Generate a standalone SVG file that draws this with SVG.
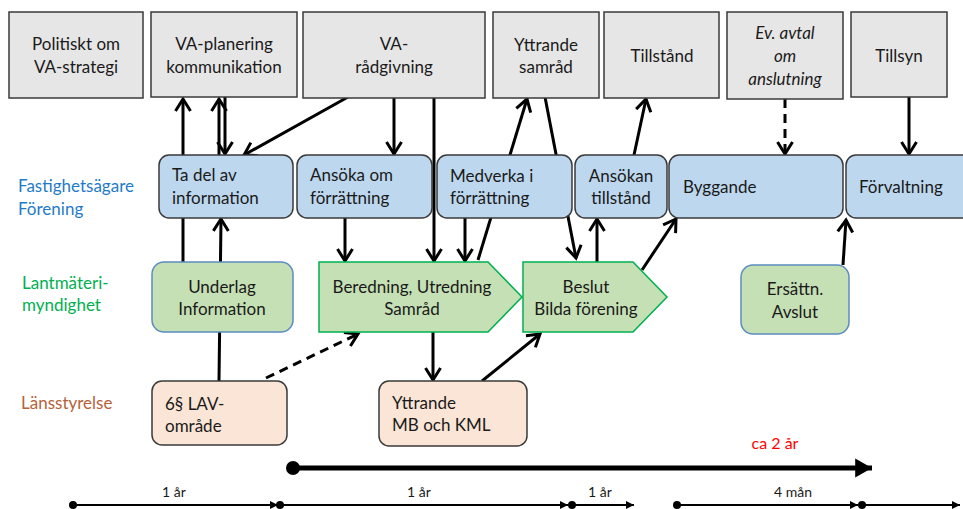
<svg xmlns="http://www.w3.org/2000/svg" width="963" height="509" viewBox="0 0 963 509">
<defs>
<style>
.t{font-family:Lato,"Open Sans","Liberation Sans",sans-serif;font-size:17px;fill:#1a1a1a}
.c{text-anchor:middle}
.gray{fill:#E7E6E6;stroke:#3a3a3a;stroke-width:1.5}
.blue{fill:#BDD7EE;stroke:#3a3a3a;stroke-width:1.5}
.grn{fill:#C5E0B4;stroke:#5B8CC0;stroke-width:1.5}
.grn2{fill:#C5E0B4;stroke:#00B050;stroke-width:1.5}
.brn{fill:#FBE5D6;stroke:#3a3a3a;stroke-width:1.5}
.ln{stroke:#000;stroke-width:3;fill:none;marker-end:url(#ah)}
.dash{stroke-dasharray:9 6}
.tl{stroke:#000;stroke-width:2;fill:none;marker-end:url(#sh)}
.tt{font-family:Lato,"Open Sans","Liberation Sans",sans-serif;font-size:14px;fill:#1a1a1a;text-anchor:middle}
</style>
<marker id="ah" markerUnits="userSpaceOnUse" markerWidth="26" markerHeight="26" viewBox="-13 -13 26 26" refX="0" refY="0" orient="auto">
<path d="M-12,-7.5 L0,0 L-12,7.5" fill="none" stroke="#000" stroke-width="3"/>
</marker>
<marker id="sh" markerUnits="userSpaceOnUse" markerWidth="14" markerHeight="14" viewBox="-10 -7 14 14" refX="0" refY="0" orient="auto">
<path d="M-8,-4 L0,0 L-8,4 Z" fill="#000"/>
</marker>
<marker id="bh" markerUnits="userSpaceOnUse" markerWidth="24" markerHeight="24" viewBox="-16 -10 20 20" refX="0" refY="0" orient="auto">
<path d="M-14,-8 L0,0 L-14,8 Z" fill="#000"/>
</marker>
</defs>
<rect width="963" height="509" fill="#fff"/>

<g id="connectors">
<line class="ln" x1="183" y1="262" x2="183" y2="99"/>
<line class="ln" x1="219" y1="155" x2="219" y2="99"/>
<line class="ln" x1="225" y1="97" x2="225" y2="154"/>
<line class="ln" x1="219" y1="381" x2="221" y2="219"/>
<line class="ln" x1="348" y1="97" x2="244" y2="155"/>
<line class="ln" x1="394" y1="97" x2="394" y2="154"/>
<line class="ln" x1="434" y1="97" x2="434" y2="261"/>
<line class="ln" x1="345" y1="218" x2="345" y2="261"/>
<line class="ln" x1="465" y1="218" x2="465" y2="261"/>
<line class="ln" x1="478" y1="260" x2="527" y2="99"/>
<line class="ln" x1="545" y1="97" x2="576" y2="258"/>
<line class="ln" x1="597" y1="262" x2="597" y2="219"/>
<line class="ln" x1="634" y1="155" x2="646" y2="99"/>
<line class="ln" x1="642" y1="270" x2="676" y2="219"/>
<line class="ln dash" x1="785" y1="99" x2="785" y2="154"/>
<line class="ln" x1="909" y1="97" x2="909" y2="154"/>
<line class="ln" x1="843" y1="265" x2="846" y2="220"/>
<line class="ln dash" x1="266" y1="378" x2="358" y2="334"/>
<line class="ln" x1="433" y1="332" x2="433" y2="380"/>
<line class="ln" x1="482" y1="381" x2="540" y2="334"/>
</g>

<g id="labels">
<text class="t" x="18" y="192" style="fill:#1F7BC8">Fastighetsägare</text>
<text class="t" x="18" y="215" style="fill:#1F7BC8">Förening</text>
<text class="t" x="22" y="289" style="fill:#00B050">Lantmäteri-</text>
<text class="t" x="22" y="311" style="fill:#00B050">myndighet</text>
<text class="t" x="21" y="409" style="fill:#B5623A">Länsstyrelse</text>
</g>

<g id="n_politiskt"><rect class="gray" x="9" y="12" width="134" height="86"/>
<text class="t c" x="76" y="50">Politiskt om</text><text class="t c" x="76" y="73">VA-strategi</text></g>
<g id="n_vaplanering"><rect class="gray" x="151" y="12" width="146" height="85"/>
<text class="t c" x="224" y="50">VA-planering</text><text class="t c" x="224" y="73">kommunikation</text></g>
<g id="n_varadgivning"><rect class="gray" x="303" y="12" width="182" height="86"/>
<text class="t c" x="394" y="50">VA-</text><text class="t c" x="394" y="73">rådgivning</text></g>
<g id="n_yttrande_samrad"><rect class="gray" x="493" y="12" width="106" height="86"/>
<text class="t c" x="546" y="51">Yttrande</text><text class="t c" x="546" y="73">samråd</text></g>
<g id="n_tillstand"><rect class="gray" x="604" y="12" width="115" height="86"/>
<text class="t c" x="662" y="62">Tillstånd</text></g>
<g id="n_avtal"><rect class="gray" x="727" y="12" width="116" height="87"/>
<text class="t c" x="785" y="39" font-style="italic">Ev. avtal</text><text class="t c" x="785" y="62" font-style="italic">om</text><text class="t c" x="785" y="85" font-style="italic">anslutning</text></g>
<g id="n_tillsyn"><rect class="gray" x="851" y="12" width="96" height="85"/>
<text class="t c" x="899" y="62">Tillsyn</text></g>

<g id="n_tadel"><rect class="blue" x="159" y="155" width="134" height="63" rx="10"/>
<text class="t" x="172" y="181">Ta del av</text><text class="t" x="172" y="204">information</text></g>
<g id="n_ansoka"><rect class="blue" x="297" y="155" width="135" height="63" rx="10"/>
<text class="t" x="310" y="181">Ansöka om</text><text class="t" x="310" y="204">förrättning</text></g>
<g id="n_medverka"><rect class="blue" x="437" y="155" width="135" height="63" rx="10"/>
<text class="t" x="450" y="182">Medverka i</text><text class="t" x="450" y="204">förrättning</text></g>
<g id="n_ansokan"><rect class="blue" x="575" y="155" width="92" height="63" rx="10"/>
<text class="t c" x="621" y="182">Ansökan</text><text class="t c" x="621" y="204">tillstånd</text></g>
<g id="n_byggande"><rect class="blue" x="669" y="155" width="174" height="63" rx="10"/>
<text class="t" x="683" y="193">Byggande</text></g>
<g id="n_forvaltning"><rect class="blue" x="846" y="155" width="130" height="63" rx="10"/>
<text class="t" x="859" y="193">Förvaltning</text></g>

<g id="n_underlag"><rect class="grn" x="152" y="262" width="141" height="70" rx="12"/>
<text class="t c" x="222" y="293">Underlag</text><text class="t c" x="222" y="315">Information</text></g>
<g id="n_beredning"><path class="grn2" d="M319,262 H488 L522,297 L488,332 H319 Z"/>
<text class="t c" x="412" y="293">Beredning, Utredning</text><text class="t c" x="412" y="315">Samråd</text></g>
<g id="n_beslut"><path class="grn2" d="M523,262 H633 L667,297 L633,332 H523 Z"/>
<text class="t c" x="586" y="293">Beslut</text><text class="t c" x="586" y="315">Bilda förening</text></g>
<g id="n_ersattn"><rect class="grn" x="741" y="265" width="108" height="69" rx="12"/>
<text class="t c" x="795" y="295">Ersättn.</text><text class="t c" x="795" y="318">Avslut</text></g>

<g id="n_lav"><rect class="brn" x="152" y="381" width="135" height="64" rx="10"/>
<text class="t" x="165" y="410">6§ LAV-</text><text class="t" x="165" y="432">område</text></g>
<g id="n_yttrande_mb"><rect class="brn" x="379" y="381" width="148" height="65" rx="10"/>
<text class="t" x="392" y="409">Yttrande</text><text class="t" x="392" y="431">MB och KML</text></g>

<g id="timeline">
<circle cx="293" cy="468" r="7" fill="#000"/>
<line x1="293" y1="468" x2="872" y2="468" stroke="#000" stroke-width="5" marker-end="url(#bh)"/>
<text x="775" y="449" font-family="Lato,'Open Sans','Liberation Sans',sans-serif" font-size="16" fill="#FF0000" text-anchor="middle">ca 2 år</text>
<circle cx="73" cy="505" r="4" fill="#000"/>
<line class="tl" x1="73" y1="505" x2="278" y2="505"/>
<circle cx="280" cy="505" r="4" fill="#000"/>
<line class="tl" x1="280" y1="505" x2="568" y2="505"/>
<circle cx="572" cy="505" r="4" fill="#000"/>
<line class="tl" x1="572" y1="505" x2="634" y2="505"/>
<circle cx="677" cy="505" r="4" fill="#000"/>
<line class="tl" x1="677" y1="505" x2="858" y2="505"/>
<circle cx="862" cy="505" r="4" fill="#000"/>
<line class="tl" x1="862" y1="505" x2="960" y2="505"/>
<text class="tt" x="174" y="497">1 år</text>
<text class="tt" x="419" y="497">1 år</text>
<text class="tt" x="600" y="497">1 år</text>
<text class="tt" x="793" y="497">4 mån</text>
</g>
</svg>
